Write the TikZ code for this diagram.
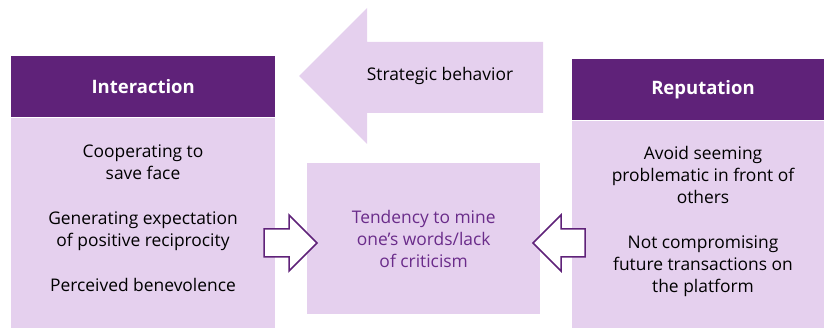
\documentclass[tikz,border=0pt]{standalone}
\usepackage{fontspec}
\setmainfont{Open Sans}
\usetikzlibrary{positioning}

\definecolor{viola}{HTML}{5F2279}
\definecolor{lilla}{HTML}{E5D0EE}
\definecolor{violatesto}{HTML}{6A2C8A}

\tikzset{
  testata/.style={fill=viola, text=white, font=\fontsize{18.5}{20}\selectfont\bfseries, minimum height=61pt, inner sep=0pt},
  corpo/.style={fill=lilla, inner sep=0pt},
  voce/.style={align=center, font=\fontsize{17.4}{22}\selectfont, text=black},
  freccina/.style={draw=viola, fill=white, line width=1.5pt, line join=miter},
}

\begin{document}
\begin{tikzpicture}[x=1pt,y=-1pt]
    \useasboundingbox (0,0) rectangle (824,328);

    % Freccia grande
    \fill[lilla] (299,76) -- (367,8) -- (367,42) -- (543,42) -- (543,113) -- (367,113) -- (367,144) -- cycle;
    \node[voce] (strategia) at (440,76) {Strategic behavior};

    % Riquadro sinistro
    \node[testata, minimum width=264pt, anchor=north west] (intTesta) at (11,56) {Interaction};
    \node[corpo, minimum width=264pt, minimum height=212pt, anchor=north] (intCorpo) at (intTesta.south) {};
    \node[voce] (intTesto) at (143,218) {Cooperating to\\save face\\[23pt]Generating expectation\\of positive reciprocity\\[23pt]Perceived benevolence};

    % Riquadro centrale
    \node[corpo, minimum width=233pt, minimum height=151pt, anchor=north west] (centro) at (307,163) {};
    \node[voce, text=violatesto] (centroTesto) at (centro.center) {Tendency to mine\\one’s words/lack\\of criticism};

    % Riquadro destro
    \node[testata, minimum width=252pt, anchor=north west] (repTesta) at (572,59) {};
    \node[text=white, font=\fontsize{18.5}{20}\selectfont\bfseries] (repTitolo) at (703,90) {Reputation};
    \node[corpo, minimum width=252pt, minimum height=209pt, anchor=north] (repCorpo) at (repTesta.south) {};
    \node[voce] (repTesto) at (703,221) {Avoid seeming\\problematic in front of\\others\\[23pt]Not compromising\\future transactions on\\the platform};

    % Frecce piccole
    \draw[freccina] (264,229) -- (289,229) -- (289,215) -- (317,243) -- (289,271) -- (289,257) -- (264,257) -- cycle;
    \draw[freccina] (585,229) -- (561,229) -- (561,215) -- (533,243) -- (561,271) -- (561,257) -- (585,257) -- cycle;
\end{tikzpicture}
\end{document}
